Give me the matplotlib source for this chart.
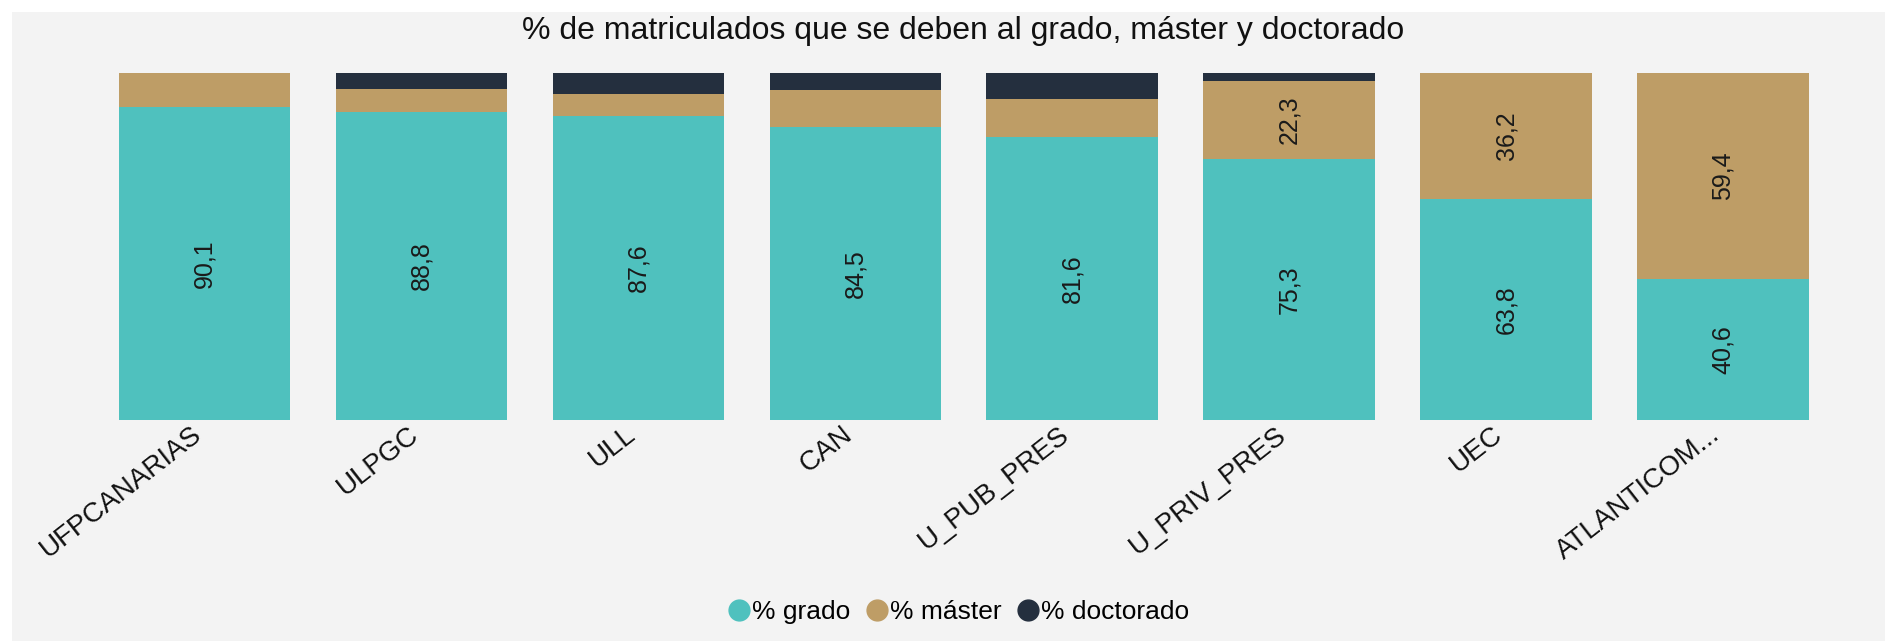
#python3

#import libraries
import numpy as np
import matplotlib
matplotlib.use('Agg')
import matplotlib.pyplot as plt
import matplotlib.transforms as mtransforms
from matplotlib.patches import Rectangle
from matplotlib.lines import Line2D

plt.rcParams['font.family'] = ['Liberation Sans', 'DejaVu Sans']

#data
universidades = ['UFPCANARIAS', 'ULPGC', 'ULL', 'CAN', 'U_PUB_PRES', 'U_PRIV_PRES', 'UEC', 'ATLANTICOM...']
pct_grado = [90.1, 88.8, 87.6, 84.5, 81.6, 75.3, 63.8, 40.6]
pct_master = [9.9, 6.6, 6.3, 10.6, 10.9, 22.3, 36.2, 59.4]
pct_doctorado = [0.0, 4.6, 6.1, 4.9, 7.5, 2.4, 0.0, 0.0]

series_names = ['% grado', '% máster', '% doctorado']
colores = ['#4FC1BE', '#BE9D66', '#242F3E']

bg = '#f3f3f3'

fig = plt.figure(figsize=(18.85, 6.41), dpi=100)
fig.patch.set_facecolor('white')
#grey panel (white strip on top and left)
fig.patches.append(Rectangle((12/1885, 0), 1, 1 - 12/641, transform=fig.transFigure,
                             facecolor=bg, edgecolor='none', zorder=-10))

ax = fig.add_axes([0.0509, 0.3448, 0.9207, 0.5413])
ax.set_facecolor(bg)
ax.patch.set_alpha(0)

x = np.arange(len(universidades))
w = 0.79
g = np.array(pct_grado)
m = np.array(pct_master)
d = np.array(pct_doctorado)

ax.bar(x, g, width=w, color=colores[0])
ax.bar(x, m, width=w, bottom=g, color=colores[1])
ax.bar(x, d, width=w, bottom=g + m, color=colores[2])

#labels inside bars
def fmt(v):
    return ('%.1f' % v).replace('.', ',')

for i in range(len(x)):
    ax.text(x[i], g[i] / 2, fmt(g[i]), rotation=90, ha='center', va='center',
            fontsize=18, color='#1a1a1a')
    if m[i] > 20:
        ax.text(x[i], g[i] + m[i] / 2, fmt(m[i]), rotation=90, ha='center', va='center',
                fontsize=18, color='#1a1a1a')

ax.set_xlim(-0.5, len(x) - 0.5)
ax.set_ylim(0, 100)
ax.set_yticks([])
ax.set_xticks(x)
ax.set_xticklabels(universidades, rotation=38, ha='right', va='top',
                   rotation_mode='anchor', fontsize=20, color='#111111')
ax.tick_params(axis='x', length=0, pad=1)
#shift tick labels a bit to the left
shift = mtransforms.ScaledTranslation(-14/100, 0, fig.dpi_scale_trans)
for lab in ax.get_xticklabels():
    lab.set_transform(lab.get_transform() + shift)
for s in ax.spines.values():
    s.set_visible(False)

#title
fig.text(0.511, 0.952, '% de matriculados que se deben al grado, máster y doctorado',
         ha='center', va='center', fontsize=23, color='#111111')

#legend
handles = [Line2D([0], [0], marker='o', linestyle='none', markersize=15,
                  markerfacecolor=c, markeredgecolor=c) for c in colores]
fig.legend(handles, series_names, loc='center', bbox_to_anchor=(0.508, 0.045), ncol=3,
           frameon=False, fontsize=19, handletextpad=0.0, columnspacing=0.5,
           handlelength=1.0)

plt.savefig('out.png', dpi=100, facecolor=fig.get_facecolor())
